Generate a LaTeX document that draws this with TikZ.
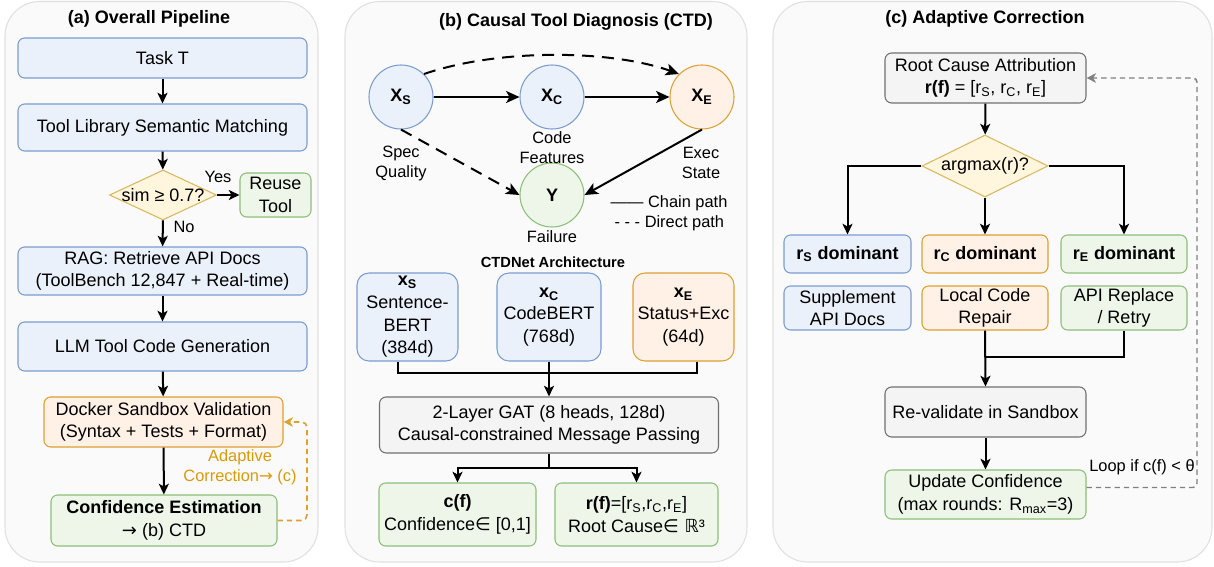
\documentclass[tikz,border=0pt]{standalone}
\usepackage{fontspec}
\setmainfont{Liberation Sans}
\newfontfamily\dejavu{DejaVu Sans}
\usetikzlibrary{arrows.meta,shapes.geometric,calc}
\definecolor{panelf}{HTML}{FAFAFA}
\definecolor{paneld}{HTML}{E0E0E0}
\definecolor{bluef}{HTML}{EAF1FB}
\definecolor{blued}{HTML}{7B9CCF}
\definecolor{orangef}{HTML}{FFF1E6}
\definecolor{oranged}{HTML}{DDA032}
\definecolor{greenf}{HTML}{EEF6EA}
\definecolor{greend}{HTML}{8CBF78}
\definecolor{grayf}{HTML}{F4F4F4}
\definecolor{grayd}{HTML}{707070}
\definecolor{yellowf}{HTML}{FFF6DD}
\definecolor{yellowd}{HTML}{D9B862}
\definecolor{orangetxt}{HTML}{D99A0A}
\definecolor{loopd}{HTML}{808080}
\newcommand\fmain{\fontsize{13.5}{17}\selectfont}
\newcommand\fsec{\fontsize{12.3}{15}\selectfont}
\newcommand\fctd{\fontsize{11}{13}\selectfont}
\newcommand\rarr{{\dejavu →}}
\begin{document}
\begin{tikzpicture}[x=0.75pt,y=-0.75pt,
  panel/.style={draw=paneld, fill=panelf, line width=0.8pt, rounded corners=26pt},
  ttl/.style={font=\bfseries\fmain},
  bx/.style={draw, rounded corners=5pt, line width=0.8pt, font=\fmain, align=center, inner sep=0pt},
  bluebox/.style={bx, fill=bluef, draw=blued},
  orangebox/.style={bx, fill=orangef, draw=oranged},
  greenbox/.style={bx, fill=greenf, draw=greend},
  graybox/.style={bx, fill=grayf, draw=grayd},
  featbox/.style={rounded corners=9pt},
  dia/.style={diamond, draw=yellowd, fill=yellowf, line width=0.8pt, inner sep=0pt, aspect=2},
  circ/.style={circle, line width=0.8pt, minimum size=48pt, inner sep=0pt, font=\bfseries\fmain},
  lbl/.style={font=\fsec, align=center},
  arr/.style={line width=1.5pt, -{Stealth[length=8pt,width=7.5pt,inset=2pt]}},
  ln/.style={line width=1.5pt},
  carr/.style={line width=1.5pt, -{Stealth[length=10pt,width=9pt,inset=2.5pt]}},
  cdash/.style={carr, dash pattern=on 9pt off 6pt},
  odash/.style={line width=1.2pt, draw=oranged, dash pattern=on 4pt off 3pt, rounded corners=4pt, -{Stealth[length=7pt,width=7pt,inset=2pt]}},
  gdash/.style={line width=1.1pt, draw=loopd, dash pattern=on 4pt off 3pt, rounded corners=3pt, -{Stealth[length=7pt,width=7pt,inset=2pt]}}
]
\useasboundingbox (0,0) rectangle (1214,567);
% panels
\draw[panel] (5,1.5) rectangle (318,562);
\draw[panel] (345,1.5) rectangle (747,562);
\draw[panel] (773,1.5) rectangle (1212,562);
\node[ttl] (ta) at (149,19) {(a) Overall Pipeline};
\node[ttl] (tb) at (576,22) {(b) Causal Tool Diagnosis (CTD)};
\node[ttl] (tc) at (985,19) {(c) Adaptive Correction};

% ---------- (a) ----------
\node[bluebox, minimum width=216.75pt, minimum height=30pt] (task) at (162.5,58) {Task T};
\node[bluebox, minimum width=216.75pt, minimum height=35.25pt] (lib) at (162.5,127.5) {Tool Library Semantic Matching};
\node[dia, minimum width=80.25pt, minimum height=37.5pt] (sim) at (163,195) {};
\node[font=\fmain] (simt) at (sim) {sim ≥ 0.7?};
\node[greenbox, minimum width=53.25pt, minimum height=33pt] (reuse) at (275.5,195) {Reuse\\Tool};
\node[bluebox, minimum width=216.75pt, minimum height=36pt] (rag) at (162.5,271) {RAG: Retrieve API Docs\\(ToolBench 12,847 + Real-time)};
\node[bluebox, minimum width=216.75pt, minimum height=36.75pt] (llm) at (162.5,346.5) {LLM Tool Code Generation};
\node[orangebox, minimum width=179.25pt, minimum height=37.5pt] (docker) at (163.5,422) {Docker Sandbox Validation\\(Syntax + Tests + Format)};
\node[greenbox, minimum width=169.5pt, minimum height=38.25pt] (conf) at (164,520.5) {{\bfseries Confidence Estimation}\\\rarr{} (b) CTD};
\node[lbl] (yes) at (218,177) {Yes};
\node[lbl] (no) at (184,227) {No};
\node[lbl, text=orangetxt] (adc) at (240,467) {Adaptive\\Correction\rarr{} (c)};
\coordinate (aloop) at (307,470);
\draw[arr] (task) -- (lib);
\draw[arr] (lib) -- (sim);
\draw[arr] (sim) -- (reuse);
\draw[arr] (sim) -- (rag);
\draw[arr] (rag) -- (llm);
\draw[arr] (llm) -- (docker);
\draw[arr] (docker) -- (conf);
\draw[odash] (conf.east) -| (aloop) |- (docker.east);

% ---------- (b) ----------
\node[circ, draw=blued, fill=bluef] (xs) at (401,97) {X\textsubscript{S}};
\node[circ, draw=blued, fill=bluef] (xc) at (552,97) {X\textsubscript{C}};
\node[circ, draw=oranged, fill=orangef] (xe) at (702,97) {X\textsubscript{E}};
\node[circ, draw=greend, fill=greenf] (yy) at (552,195) {Y};
\node[lbl] (ls) at (401,163) {Spec\\Quality};
\node[lbl] (lc) at (552,148) {Code\\Features};
\node[lbl] (le) at (701,163) {Exec\\State};
\node[lbl] (lf) at (552,237) {Failure};
\node[lbl, anchor=west] (leg1) at (606,203) {—— Chain path};
\node[lbl, anchor=west] (leg2) at (610,223) {- - - Direct path};
\draw[carr] (xs) -- (xc);
\draw[carr] (xc) -- (xe);
\draw[carr] (xe.south) -- (yy.east);
\draw[cdash] (xs.south) -- (yy.west);
\draw[cdash] (xs.45) .. controls (500,48) and (612,50) .. (xe.135);

\node[font=\bfseries\fctd] (ctdnet) at (553,262) {CTDNet Architecture};
\node[bluebox, featbox, minimum width=75.75pt, minimum height=66pt] (xsb) at (407.5,317) {{\bfseries x\textsubscript{S}}\\Sentence-\\BERT\\(384d)};
\node[bluebox, featbox, minimum width=78pt, minimum height=66pt] (xcb) at (549,317) {{\bfseries x\textsubscript{C}}\\CodeBERT\\(768d)};
\node[orangebox, featbox, minimum width=75.75pt, minimum height=66pt] (xeb) at (683.5,317) {{\bfseries x\textsubscript{E}}\\Status+Exc\\(64d)};
\node[graybox, minimum width=254.25pt, minimum height=42pt] (gat) at (549,425) {2-Layer GAT (8 heads, 128d)\\Causal-constrained Message Passing};
\node[greenbox, minimum width=117.75pt, minimum height=47.25pt] (cf) at (457.5,514.5) {{\bfseries c(f)}\\Confidence{\dejavu ∈} [0,1]};
\node[greenbox, minimum width=122.25pt, minimum height=47.25pt] (rf) at (636.5,514.5) {{\bfseries r(f)}=[r\textsubscript{S},r\textsubscript{C},r\textsubscript{E}]\\Root Cause{\dejavu ∈ ℝ}³};
\coordinate (join) at (549,373);
\coordinate (split) at (549,468);
\draw[ln] ([xshift=-7.5pt]xsb.south) |- (join);
\draw[ln] ([xshift=10pt]xeb.south) |- (join);
\draw[arr] (xcb.south) -- (gat.north);
\draw[ln] (gat.south) -- (split);
\draw[arr] (split) -| (cf.north);
\draw[arr] (split) -| (rf.north);

% ---------- (c) ----------
\node[graybox, minimum width=150.75pt, minimum height=37.5pt] (rca) at (985.5,78) {Root Cause Attribution\\{\bfseries r(f)} = [r\textsubscript{S}, r\textsubscript{C}, r\textsubscript{E}]};
\node[dia, minimum width=94.5pt, minimum height=46.5pt] (arg) at (985,166) {};
\node[font=\fmain] (argt) at (arg) {argmax(r)?};
\node[bluebox, minimum width=95.25pt, minimum height=28.5pt, font=\bfseries\fmain] (rsd) at (847.5,254) {r\textsubscript{S} dominant};
\node[orangebox, minimum width=94.5pt, minimum height=28.5pt, font=\bfseries\fmain] (rcd) at (985,254) {r\textsubscript{C} dominant};
\node[greenbox, minimum width=94.5pt, minimum height=28.5pt, font=\bfseries\fmain] (red) at (1124,254) {r\textsubscript{E} dominant};
\node[bluebox, minimum width=95.25pt, minimum height=33pt] (sup) at (847.5,308) {Supplement\\API Docs};
\node[orangebox, minimum width=94.5pt, minimum height=33pt] (lcr) at (985,308) {Local Code\\Repair};
\node[greenbox, minimum width=94.5pt, minimum height=33pt] (ard) at (1124,308) {API Replace\\/ Retry};
\node[graybox, minimum width=150.75pt, minimum height=37.5pt] (reval) at (985.5,412) {Re-validate in Sandbox};
\node[greenbox, minimum width=150.75pt, minimum height=36.75pt] (upd) at (985.5,494.5) {Update Confidence\\(max rounds: R\textsubscript{max}=3)};
\node[lbl] (loopl) at (1142,467) {Loop if c(f) < θ};
\coordinate (merge) at (985,357);
\coordinate (cloop) at (1197,300);
\draw[arr] (rca) -- (arg);
\draw[arr] (arg.west) -| (rsd.north);
\draw[arr] (arg.east) -| (red.north);
\draw[arr] (arg.south) -- (rcd.north);
\draw[ln] (ard.south) |- (merge);
\draw[arr] (lcr.south) -- (reval.north);
\draw[arr] (reval) -- (upd);
\draw[gdash] ([yshift=5.25pt]upd.east) -| (cloop) |- (rca.east);
\end{tikzpicture}
\end{document}
